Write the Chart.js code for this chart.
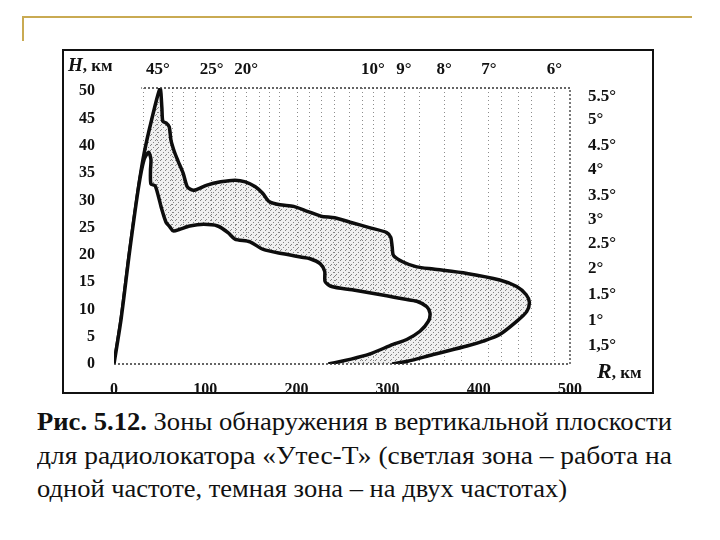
<!DOCTYPE html>
<html>
<head>
<meta charset="utf-8">
<script src="https://cdn.jsdelivr.net/npm/chart.js@4.4.1/dist/chart.umd.min.js"></script>
<style>
  html, body { margin: 0; padding: 0; background: #fff; }
  #page { position: relative; width: 720px; height: 540px; overflow: hidden;
          font-family: 'Liberation Serif', 'DejaVu Serif', serif; color: #111; }
  #chartBox { position: absolute; left: 0; top: 0; width: 720px; height: 400px; }
  .gold-h { position: absolute; left: 22px; top: 16px; width: 670px; height: 2px; background: #c9aa52; }
  .gold-v { position: absolute; left: 22px; top: 16px; width: 2px; height: 25px; background: #c9aa52; }
  .frame { position: absolute; left: 62px; top: 49px; width: 592px; height: 345px;
           box-sizing: border-box; border: 2px solid #111; pointer-events: none; }
  .lbl { position: absolute; font-weight: bold; white-space: nowrap; color: #111; }
  .cap { position: absolute; left: 37px; font-size: 26px; line-height: 26px;
         white-space: nowrap; transform-origin: 0 0; }
</style>
</head>
<body>
<div id="page">
  <div class="gold-h"></div>
  <div class="gold-v"></div>
  <div id="chartBox"><canvas id="zoneChart" width="720" height="400"></canvas></div>
  <div class="frame"></div>
  <div class="lbl" style="left:68px;top:54px;font-size:17px;"><i style="font-size:19px;">H</i>, км</div>
  <div class="lbl" style="left:597px;top:358px;font-size:17px;"><i style="font-size:22px;">R</i>, км</div>
  <div class="cap" id="cap1" data-w="635" style="top:409px;"><b>Рис. 5.12.</b> Зоны обнаружения в вертикальной плоскости</div>
  <div class="cap" id="cap2" data-w="635" style="top:443px;">для радиолокатора «Утес-Т» (светлая зона – работа на</div>
  <div class="cap" id="cap3" data-w="530" style="top:476px;">одной частоте, темная зона – на двух частотах)</div>
</div>
<script>
// Axis ticks
const distTicks = [0, 100, 200, 300, 400, 500];
const heightTicks = [0, 5, 10, 15, 20, 25, 30, 35, 40, 45, 50];

// Elevation angle marks along the top (distance, km) and their labels
const topAnglePos = [48, 107, 145, 284, 318, 362, 411, 483];
const topAngleLabels = ['45°', '25°', '20°', '10°', '9°', '8°', '7°', '6°'];
// other faint dotted verticals seen in the scan (km)
const dottedGridPos = [32, 64, 76, 89, 120, 133, 160, 170, 182, 201, 214, 227, 242, 258, 273, 297, 335, 381, 425, 443, 458];

// Elevation angle marks along the right edge (height, km)
const rightAngleH = [49.1, 44.8, 40.0, 35.6, 30.8, 26.4, 22.0, 17.5, 12.7, 7.9, 3.3];
const rightAngleLabels = ['5.5°', '5°', '4.5°', '4°', '3.5°', '3°', '2.5°', '2°', '1.5°', '1°', '1,5°'];

// Outer boundary (two frequencies) - R km / H km
const outerR = [0, 8, 17, 27, 33, 41, 50.5, 52.5, 53.5, 57, 60.5, 62.5, 66, 70, 75.8, 80, 84, 89,
  102, 117, 132.6, 144, 155, 163, 170, 182, 197, 212, 227, 242, 261, 280, 299, 303.5, 305, 306.5,
  317, 332, 350, 387, 423, 441.5, 452, 455.5, 452.5, 441.5, 423, 405, 387, 350, 322, 305];
const outerH = [0, 8.5, 20.5, 32.5, 38.6, 44.6, 50.5, 47, 44.5, 44.2, 43.5, 41, 39, 37.3, 35, 32.6, 32, 31.9,
  32.8, 33.4, 33.7, 33.4, 32.5, 31.3, 29.8, 29.2, 28.9, 28, 27.1, 26.8, 25.9, 25, 24.1, 23.2, 21.5, 19.9,
  18.7, 17.8, 17.4, 16.6, 15.4, 14.2, 12.7, 11.3, 9.6, 7.8, 5.4, 4.2, 3.3, 1.75, 0.5, 0];

// Inner boundary (one frequency)
const innerR = [0, 8, 17, 27, 33, 38, 40.5, 40, 40.5, 45, 48.6, 52.3, 57, 61, 65, 72, 83, 98.5, 113.6,
  125, 132.6, 149, 163.7, 185.6, 204.5, 215, 226, 231, 231.5, 238.6, 261, 299, 318, 332, 343, 346.5,
  344.6, 335.5, 321, 306, 280, 260, 235];
const innerH = [0, 8.5, 20.5, 32.5, 37.5, 38.8, 37.5, 35.5, 33, 32.7, 30.8, 28.4, 26, 25.2, 24.4, 24.7,
  25.3, 25.6, 25.3, 24.1, 22.9, 22.4, 21, 20.2, 19.6, 19.3, 18.4, 17, 15.1, 14.2, 13.6, 12.5, 11.9,
  11.5, 10.5, 9.3, 7.8, 6, 4.5, 3.6, 1.8, 0.9, 0];

const toPoints = (xs, ys) => xs.map((x, i) => ({ x: x, y: ys[i] }));

const ctx = document.getElementById('zoneChart').getContext('2d');

// stipple pattern for the dark (two-frequency) zone
function makeStipple() {
  const tile = document.createElement('canvas');
  tile.width = 5;
  tile.height = 5;
  const g = tile.getContext('2d');
  g.fillStyle = 'rgba(0,0,0,0.06)';
  g.fillRect(0, 0, 5, 5);
  g.fillStyle = 'rgba(0,0,0,0.45)';
  g.fillRect(0, 0, 1, 1);
  g.fillRect(3, 2, 1, 1);
  g.fillRect(1, 4, 1, 1);
  return ctx.createPattern(tile, 'repeat');
}

// dotted border of the plotting field (drawn over the fills)
const dottedFrame = {
  id: 'dottedFrame',
  afterDatasetsDraw(chart) {
    const a = chart.chartArea;
    const c = chart.ctx;
    c.save();
    c.strokeStyle = '#333';
    c.lineWidth = 1.3;
    c.setLineDash([2, 2]);
    c.beginPath();
    c.moveTo(a.left, a.bottom);
    c.lineTo(a.right, a.bottom);
    c.lineTo(a.right, a.top);
    c.lineTo(chart.scales.x.getPixelForValue(30), a.top);
    c.stroke();
    c.restore();
  }
};

const tickFont = { family: "'Liberation Serif', serif", size: 16, weight: 'bold' };
const angleFont = { family: "'Liberation Serif', serif", size: 17, weight: 'bold' };
const allTopTicks = topAnglePos.concat(dottedGridPos).sort((a, b) => a - b);

new Chart(ctx, {
  type: 'scatter',
  data: {
    datasets: [
      {
        label: 'одна частота',
        data: toPoints(innerR, innerH),
        showLine: true,
        fill: 'shape',
        backgroundColor: '#ffffff',
        borderColor: '#0d0d0d',
        borderWidth: 3.5,
        borderJoinStyle: 'round',
        pointRadius: 0,
        tension: 0.25
      },
      {
        label: 'две частоты',
        data: toPoints(outerR, outerH),
        showLine: true,
        fill: 'shape',
        backgroundColor: makeStipple(),
        borderColor: '#0d0d0d',
        borderWidth: 3.5,
        borderJoinStyle: 'round',
        pointRadius: 0,
        tension: 0.25
      }
    ]
  },
  options: {
    responsive: false,
    animation: false,
    layout: { padding: 0 },
    plugins: { legend: { display: false }, tooltip: { enabled: false } },
    scales: {
      x: {
        type: 'linear', position: 'bottom', min: 0, max: 500,
        afterBuildTicks: s => { s.ticks = distTicks.map(v => ({ value: v })); },
        afterFit: s => { s.height = 36; },
        grid: { display: false },
        border: { display: false },
        ticks: { font: tickFont, color: '#111', padding: 8, maxRotation: 0, autoSkip: false }
      },
      xTop: {
        type: 'linear', position: 'top', min: 0, max: 500,
        afterBuildTicks: s => { s.ticks = allTopTicks.map(v => ({ value: v })); },
        afterFit: s => { s.height = 88; },
        grid: { display: true, drawTicks: false, color: 'rgba(0,0,0,0.45)', lineWidth: 1 },
        border: { display: false, dash: [1, 3] },
        ticks: {
          font: angleFont, color: '#111', padding: 8, maxRotation: 0, autoSkip: false,
          callback: v => {
            const i = topAnglePos.indexOf(v);
            return i >= 0 ? topAngleLabels[i] : '';
          }
        }
      },
      y: {
        type: 'linear', position: 'left', min: 0, max: 50.6,
        afterBuildTicks: s => { s.ticks = heightTicks.map(v => ({ value: v })); },
        afterFit: s => { s.width = 114; },
        grid: { display: false },
        border: { display: false },
        ticks: { font: tickFont, color: '#111', padding: 11, autoSkip: false }
      },
      yRight: {
        type: 'linear', position: 'right', min: 0, max: 50.6,
        afterBuildTicks: s => { s.ticks = rightAngleH.map(v => ({ value: v })); },
        afterFit: s => { s.width = 150; },
        grid: { display: false },
        border: { display: false },
        ticks: {
          font: angleFont, color: '#111', padding: 10, autoSkip: false,
          callback: v => {
            const i = rightAngleH.indexOf(v);
            return i >= 0 ? rightAngleLabels[i] : '';
          }
        }
      }
    }
  },
  plugins: [dottedFrame]
});

// fit caption lines to the printed widths
document.querySelectorAll('.cap').forEach(el => {
  const w = el.getBoundingClientRect().width;
  const target = Number(el.dataset.w);
  el.style.transform = 'scaleX(' + (target / w).toFixed(3) + ')';
});
</script>
</body>
</html>
